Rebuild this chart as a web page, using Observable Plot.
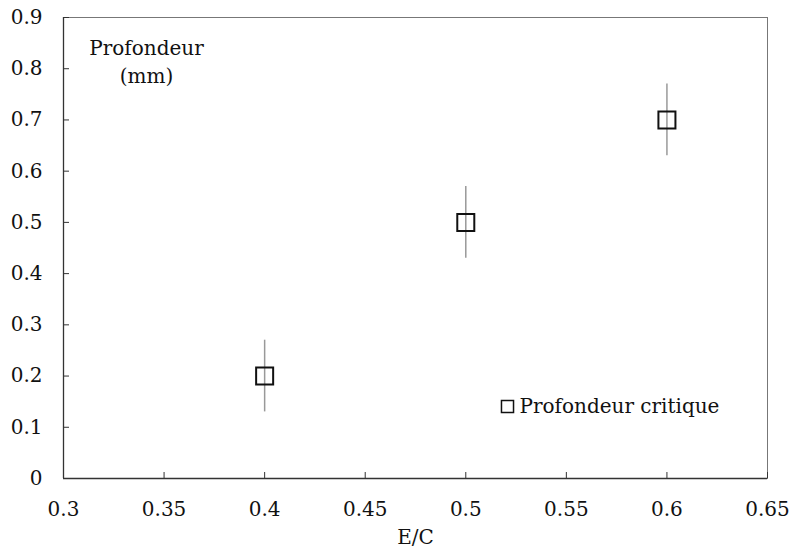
<!DOCTYPE html>
<html><head><meta charset="utf-8">
<script src="https://cdn.jsdelivr.net/npm/d3@7"></script>
<script src="https://cdn.jsdelivr.net/npm/@observablehq/plot@0.6"></script>
<style>body{margin:0;background:#fff}</style>
</head><body><div id="chart"></div>
<script>
const ratioEC = [0.4, 0.5, 0.6];
const depth = [0.2, 0.5, 0.7];
const errLow = [0.13, 0.43, 0.63];
const errHigh = [0.27, 0.57, 0.77];
const xTicks = [0.3, 0.35, 0.4, 0.45, 0.5, 0.55, 0.6, 0.65];
const yTicks = [0, 0.1, 0.2, 0.3, 0.4, 0.5, 0.6, 0.7, 0.8, 0.9];
const xLabel = "E/C";
const yLabel = "Profondeur\n(mm)";
const seriesName = "Profondeur critique";

const data = ratioEC.map((x, i) => ({x, y: depth[i], lo: errLow[i], hi: errHigh[i]}));
const font = "DejaVu Serif";
const fs = 20;

const chart = Plot.plot({
  width: 790, height: 549,
  marginLeft: 63, marginRight: 23, marginTop: 17, marginBottom: 71,
  style: {fontFamily: font, fontSize: fs + "px", color: "#111", background: "#fff"},
  x: {domain: [0.3, 0.65], type: "linear"},
  y: {domain: [0, 0.9], type: "linear"},
  marks: [
    Plot.frame({stroke: "#777", strokeWidth: 1}),
    Plot.ruleX([0.3], {stroke: "#333", strokeWidth: 1.3}),
    Plot.ruleY([0], {stroke: "#333", strokeWidth: 1.3}),
    Plot.tickX(xTicks, {x: d => d, insetTop: 455, stroke: "#333", strokeWidth: 1}),
    Plot.tickY(yTicks, {y: d => d, insetRight: 698, stroke: "#333", strokeWidth: 1}),
    Plot.axisX({ticks: xTicks, tickSize: 0, tickPadding: 23, tickFormat: d => String(d), label: null, fontSize: fs, fill: "#111"}),
    Plot.axisY({ticks: yTicks, tickSize: 0, tickPadding: 21, tickFormat: d => String(d), label: null, fontSize: fs, fill: "#111"}),
    Plot.ruleX(data, {x: "x", y1: "lo", y2: "hi", stroke: "#999", strokeWidth: 1.5}),
    Plot.dot(data, {x: "x", y: "y", symbol: "square", r: 9.6, stroke: "#111", strokeWidth: 2, fill: "none"}),
    Plot.text([xLabel], {frameAnchor: "bottom", dy: 59, text: d => d, fontSize: fs, lineAnchor: "middle", fill: "#111"}),
    Plot.text([yLabel], {frameAnchor: "top-left", dx: 83, dy: 43, text: d => d, fontSize: fs, textAnchor: "middle", lineAnchor: "middle", lineHeight: 1.4, fill: "#111"}),
    Plot.dot([seriesName], {frameAnchor: "bottom-right", dx: -260, dy: -72, symbol: "square", r: 6.8, stroke: "#111", strokeWidth: 1.5, fill: "none"}),
    Plot.text([seriesName], {frameAnchor: "bottom-right", dx: -248, dy: -72, text: d => d, textAnchor: "start", lineAnchor: "middle", fontSize: fs, fill: "#111"})
  ]
});
document.getElementById("chart").appendChild(chart);
</script>
</body></html>
